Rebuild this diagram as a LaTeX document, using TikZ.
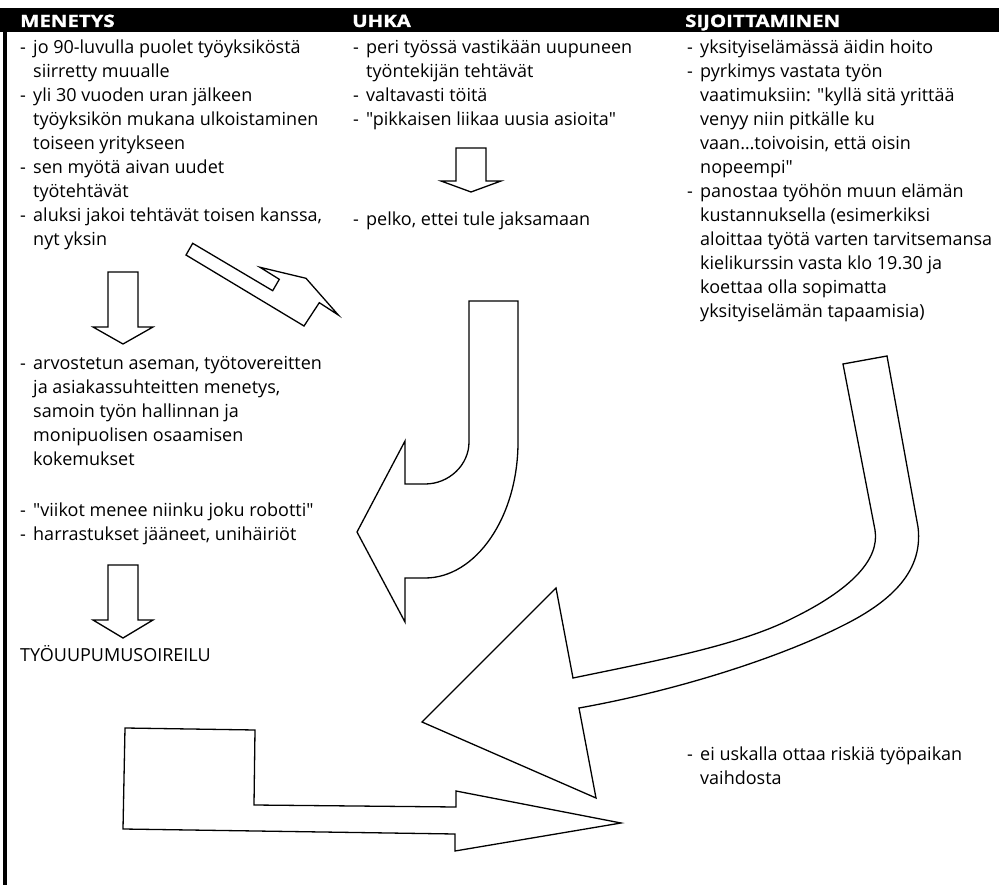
\documentclass[tikz,border=0pt]{standalone}
\usepackage{fontspec}
\setmainfont{Open Sans}[Ligatures=TeXOff]
\newfontfamily\headfont{Open Sans}[BoldFeatures={FakeBold=1.2}]
% dash of a list item and the matching indent of its continuation lines
\newcommand\itemdash{\makebox[13pt][l]{-}}
\newcommand\itemcont{\hspace*{13pt}}
\begin{document}
\begin{tikzpicture}[x=1pt,y=-1pt,
  % a text block is placed at the baseline of its first line
  txt/.style={anchor=north west, inner sep=0pt, align=left, yshift=16.8pt,
    font=\fontsize{18}{24}\selectfont, execute at begin node=\strut},
  hdr/.style={anchor=base west, inner sep=0pt, text=white,
    font=\headfont\bfseries\fontsize{17}{20}\selectfont},
  blockarrow/.style={draw=black, line width=1.3pt, line join=miter}]
\useasboundingbox (0,0) rectangle (999,885);
\fill[white] (0,0) rectangle (999,885);

% heading band and left rule
\fill[black] (0,8) rectangle (999,32);
\draw[line width=4pt] (5,31) -- (5,885);

\node[hdr] (hmen) at (20,27) {\scalebox{1.2}[1]{MENETYS}};
\node[hdr] (huhka) at (352,27) {\scalebox{1.2}[1]{UHKA}};
\node[hdr] (hsij) at (685,27) {\scalebox{1.2}[1]{SIJOITTAMINEN}};

% MENETYS column
\node[txt] (m1) at (20,56) {\itemdash jo 90-luvulla puolet työyksiköstä\\
\itemcont siirretty muualle\\
\itemdash yli 30 vuoden uran jälkeen\\
\itemcont työyksikön mukana ulkoistaminen\\
\itemcont toiseen yritykseen\\
\itemdash sen myötä aivan uudet\\
\itemcont työtehtävät\\
\itemdash aluksi jakoi tehtävät toisen kanssa,\\
\itemcont nyt yksin};

\node[txt] (m2) at (20,373) {\itemdash arvostetun aseman, työtovereitten\\
\itemcont ja asiakassuhteitten menetys,\\
\itemcont samoin työn hallinnan ja\\
\itemcont monipuolisen osaamisen\\
\itemcont kokemukset};

\node[txt] (m3) at (20,519) {\itemdash "viikot menee niinku joku robotti"\\
\itemdash harrastukset jääneet, unihäiriöt};

\node[txt] (tyo) at (20,661) {TYÖUUPUMUSOIREILU};

% UHKA column
\node[txt] (u1) at (353,56) {\itemdash peri työssä vastikään uupuneen\\
\itemcont työntekijän tehtävät\\
\itemdash valtavasti töitä\\
\itemdash "pikkaisen liikaa uusia asioita"};

\node[txt] (u2) at (353,225) {\itemdash pelko, ettei tule jaksamaan};

% SIJOITTAMINEN column
\node[txt] (s1) at (687,56) {\itemdash yksityiselämässä äidin hoito\\
\itemdash pyrkimys vastata työn\\
\itemcont vaatimuksiin: "kyllä sitä yrittää\\
\itemcont venyy niin pitkälle ku\\
\itemcont vaan…toivoisin, että oisin\\
\itemcont nopeempi"\\
\itemdash panostaa työhön muun elämän\\
\itemcont kustannuksella (esimerkiksi\\
\itemcont aloittaa työtä varten tarvitsemansa\\
\itemcont kielikurssin vasta klo 19.30 ja\\
\itemcont koettaa olla sopimatta\\
\itemcont yksityiselämän tapaamisia)};

\node[txt] (s2) at (687,763) {\itemdash ei uskalla ottaa riskiä työpaikan\\
\itemcont vaihdosta};

% straight down arrows
\draw[blockarrow] (108,272) -- (138,272) -- (138,327) -- (153,327) -- (123,344)
  -- (93,327) -- (108,327) -- cycle;
\draw[blockarrow] (108,565) -- (138,565) -- (138,620) -- (153,620) -- (123,638)
  -- (93,620) -- (108,620) -- cycle;
\draw[blockarrow] (456,148) -- (486,148) -- (486,181) -- (501,181) -- (471,192)
  -- (441,181) -- (456,181) -- cycle;

% slanted arrow towards the UHKA column
\draw[blockarrow] (186,255) -- (192.7,243.3) -- (272.7,290.7) -- (279.3,279.3)
  -- (260,267.3) -- (306,278.3) -- (338.3,315) -- (319.3,302.7) -- (304,326) -- cycle;

% hooked arrow turning left
\draw[blockarrow] (469,301) -- (518,301) -- (518,442)
  .. controls (518,517) and (476,578) .. (425,578)
  -- (405,578) -- (405,622) -- (357,532) -- (405,441) -- (405,484) -- (425,484)
  .. controls (449,484) and (469,465) .. (469,442) -- cycle;

% long curved arrow from the SIJOITTAMINEN column
\draw[blockarrow] (843,364) -- (887,356) -- (918,527)
  .. controls (924,575) and (885,605) .. (840,627)
  .. controls (780,657) and (680,690) .. (579,708)
  -- (596,798) -- (422,722) -- (556,588) -- (573,678)
  .. controls (660,660) and (740,645) .. (793,618)
  .. controls (850,590) and (880,560) .. (875,530) -- cycle;

% bent arrow at the bottom
\draw[blockarrow] (125,728) -- (255,730) -- (254,805) -- (456,807) -- (456,791)
  -- (621,823) -- (455,851) -- (455,834) -- (123,829) -- cycle;
\end{tikzpicture}
\end{document}
